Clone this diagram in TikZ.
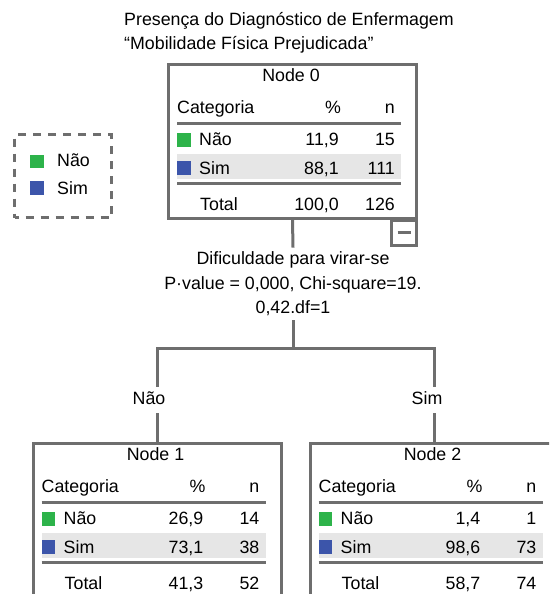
\documentclass[tikz,border=0pt]{standalone}
\usepackage{fontspec}
\setmainfont{Liberation Sans}
\usepackage{xcolor}
\usepackage{tikz}
\usetikzlibrary{positioning}
\definecolor{cinza}{HTML}{6E6E6E}
\definecolor{sombra}{HTML}{E6E6E6}
\definecolor{verde}{HTML}{2DB34A}
\definecolor{azul}{HTML}{3C55AA}
\tikzset{
  texto/.style={font=\fontsize{17.8}{24.5}\selectfont, inner sep=0pt},
  celula/.style={texto, text height=12.5pt, text depth=3.5pt},
  caixa/.style={draw=cinza, line width=3pt, fill=white, minimum width=248pt, minimum height=#1, inner sep=0pt, anchor=north},
  caixa/.default=154pt,
  linha/.style={draw=cinza, line width=3pt},
  rotulo/.style={celula, fill=white, inner xsep=1pt, inner ysep=5pt},
  quadrado/.style={minimum size=13.5pt, inner sep=0pt},
}
% conteudo de cada no da arvore: nome, numero, %/n de Nao, Sim e Total
\newcommand{\tabela}[8]{%
  \begin{scope}[shift={(#1.north west)}]
    \node[celula] at (124,14) {Node #2};
    \node[celula, anchor=west] at (10,46) {Categoria};
    \node[celula] at (166,46) {\%};
    \node[celula, anchor=east] at (228,46) {n};
    \draw[linha] (10,60) -- (234,60);
    \fill[sombra] (10,91) rectangle (234,116);
    \node[quadrado, fill=verde, anchor=north west] at (10,70) {};
    \node[celula, anchor=west] at (32,78) {Não};
    \node[celula, anchor=east] at (172,78) {#3};
    \node[celula, anchor=east] at (228,78) {#4};
    \node[quadrado, fill=azul, anchor=north west] at (10,98) {};
    \node[celula, anchor=west] at (32,106.5) {Sim};
    \node[celula, anchor=east] at (172,107) {#5};
    \node[celula, anchor=east] at (228,107) {#6};
    \draw[linha] (10,120) -- (234,120);
    \node[celula, anchor=west] at (33,143) {Total};
    \node[celula, anchor=east] at (172,143) {#7};
    \node[celula, anchor=east] at (228,143) {#8};
  \end{scope}}

\begin{document}
\begin{tikzpicture}[x=1pt, y=-1pt]
  \useasboundingbox (0,0) rectangle (549,594);
  \clip (0,0) rectangle (549,594);
  \node[texto, align=left, anchor=north west] (titulo) at (124,12) {Presença do Diagnóstico de Enfermagem\\“Mobilidade Física Prejudicada”};

  % legenda
  \node[draw=cinza, line width=3pt, dash pattern=on 8pt off 7pt, dash phase=4pt, minimum width=97pt, minimum height=83pt, anchor=north west] (legenda) at (13,133) {};
  \node[quadrado, fill=verde] (qnao) at (37,161.5) {};
  \node[celula, anchor=west] (lnao) at (57,162) {Não};
  \node[quadrado, fill=azul] (qsim) at (37,188) {};
  \node[celula, anchor=west] (lsim) at (57,190) {Sim};

  % nos
  \node[caixa] (node0) at (292.5,63) {};
  \node[caixa=175pt] (node1) at (157,442) {};
  \node[caixa=175pt] (node2) at (434,442) {};
  \tabela{node0}{0}{11,9}{15}{88,1}{111}{100,0}{126}
  \tabela{node1}{1}{26,9}{14}{73,1}{38}{41,3}{52}
  \tabela{node2}{2}{1,4}{1}{98,6}{73}{58,7}{74}
  \node[draw=cinza, line width=3pt, fill=white, minimum size=25pt, inner sep=0pt, anchor=north east] (menos) at ([yshift=1.5pt]node0.south east) {};
  \draw[linha] ([xshift=-6.5pt]menos.center) -- ([xshift=6.5pt]menos.center);

  % divisao
  \node[texto, align=center, inner sep=4pt] (teste) at (293,284) {Dificuldade para virar-se\\P·value = 0,000, Chi-square=19.\\0,42.df=1};
  \coordinate (ramo) at (293,348);
  \draw[linha] (node0.south) -- (teste.north);
  \draw[linha] (teste.south) -- (ramo);
  \draw[linha] (node1.north) -- (node1.north |- ramo) -- (node2.north |- ramo) -- (node2.north);
  \node[rotulo] (rnao) at (149,400) {Não};
  \node[rotulo] (rsim) at (427,400) {Sim};
\end{tikzpicture}
\end{document}
